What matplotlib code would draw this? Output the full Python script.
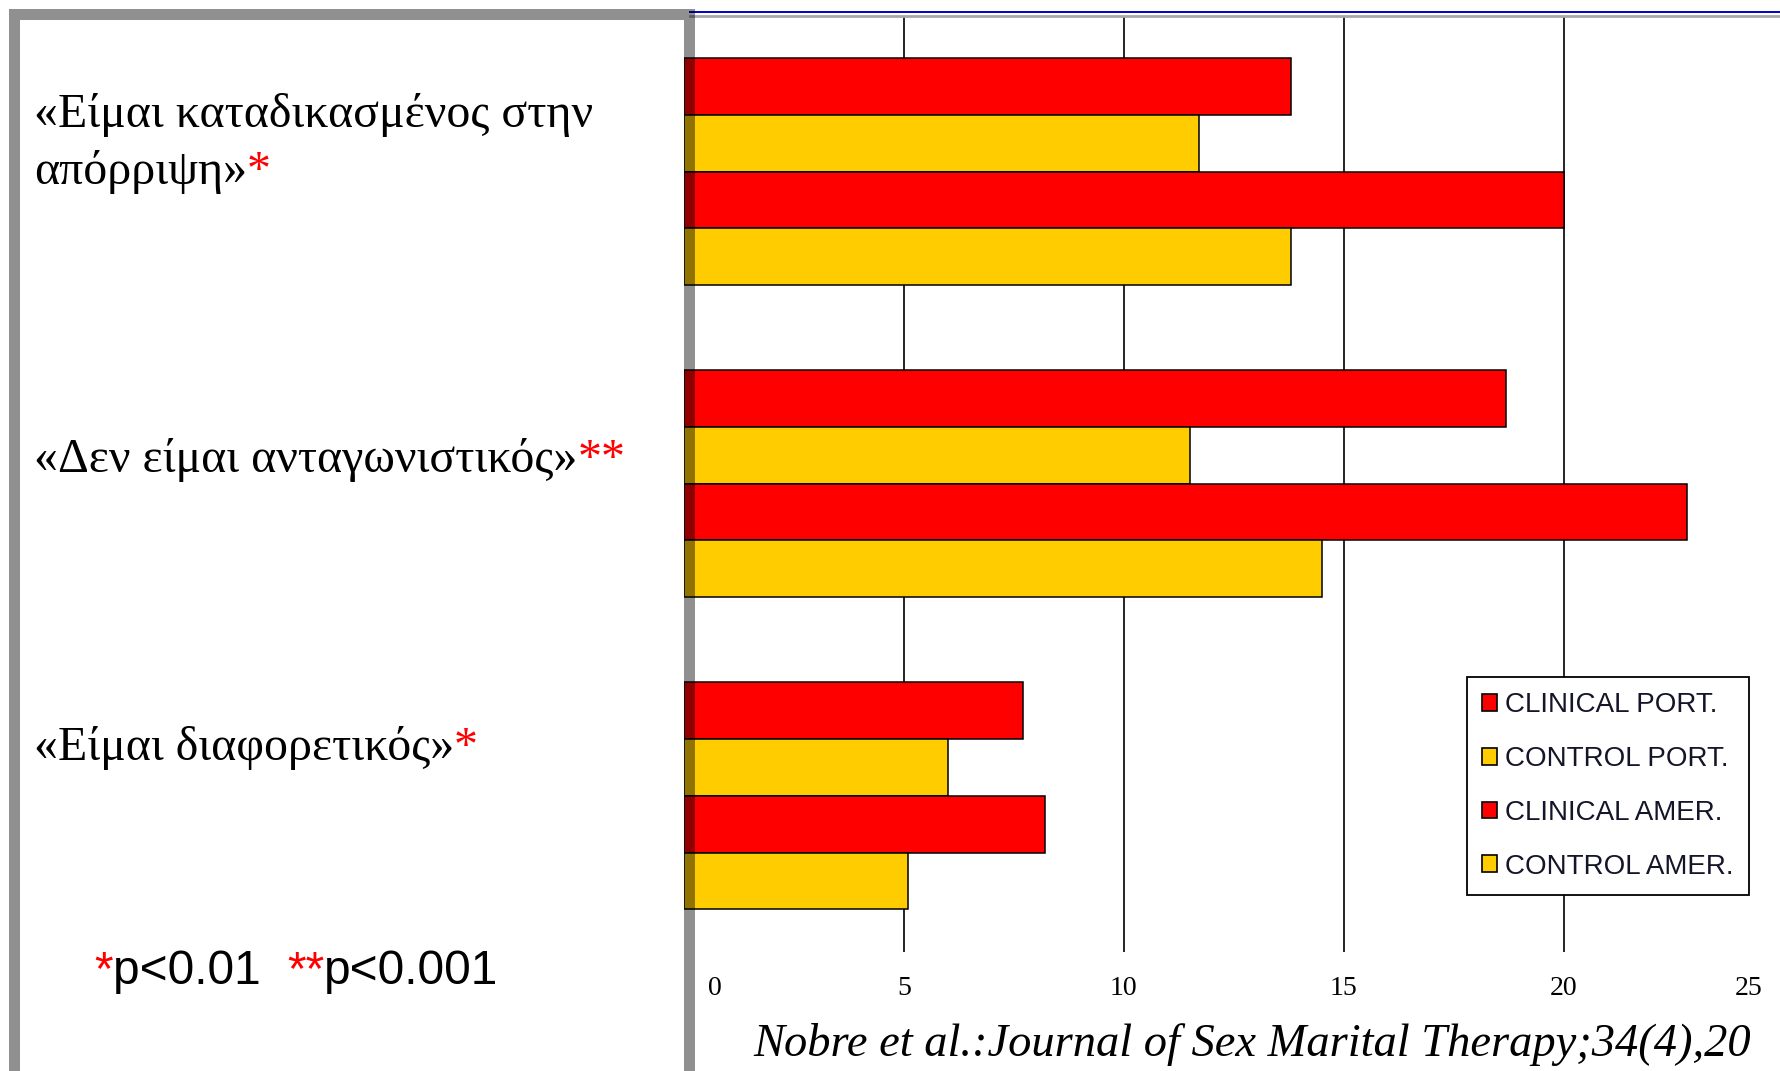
import matplotlib
matplotlib.use('Agg')
import matplotlib.pyplot as plt
from matplotlib.patches import Rectangle, Patch
from matplotlib.lines import Line2D
from matplotlib.transforms import ScaledTranslation
import numpy as np

# ---------------- data ----------------
categories = [['«Είμαι καταδικασμένος στην', 'απόρριψη»'],
              ['«Δεν είμαι ανταγωνιστικός»'],
              ['«Είμαι διαφορετικός»']]
significance = ['*', '**', '*']
series_names = ['CLINICAL PORT.', 'CONTROL PORT.', 'CLINICAL AMER.', 'CONTROL AMER.']
clinical_port = [13.8, 18.7, 7.7]
control_port = [11.7, 11.5, 6.0]
clinical_amer = [20.0, 22.8, 8.2]
control_amer = [13.8, 14.5, 5.1]
xtick_values = [0, 5, 10, 15, 20, 25]
pvalue_parts = [('*', 'red'), ('p<0.01  ', 'black'), ('**', 'red'), ('p<0.001', 'black')]
citation = 'Nobre et al.:Journal of Sex Marital Therapy;34(4),20'

series_values = [clinical_port, control_port, clinical_amer, control_amer]
colors = ['#FF0000', '#FFCC00', '#FF0000', '#FFCC00']

# ---------------- figure ----------------
W, H = 1780, 1071
fig = plt.figure(figsize=(W / 100, H / 100), dpi=100)
fig.patch.set_facecolor('white')


def fx(px):
    return px / W


def fy(py):
    return 1 - py / H


x0_px, unit_px = 684.0, 43.98
ax_left, ax_top, ax_bottom = x0_px, 16.0, 952.0
ax_right = x0_px + 25 * unit_px
ax = fig.add_axes([fx(ax_left), fy(ax_bottom), (ax_right - ax_left) / W, (ax_bottom - ax_top) / H])
ax.set_facecolor('none')

group_step = 5.5
for i, vals in enumerate(series_values):
    ypos = np.arange(len(vals)) * group_step + i + 0.5
    ax.barh(ypos, vals, height=1.0, color=colors[i], edgecolor='black', linewidth=1.1, zorder=3)

ax.set_xlim(0, 25)
ax.set_ylim(15.75, -0.74)
ax.set_yticks([])
ax.set_xticks(xtick_values)
ax.set_xticklabels([str(v) for v in xtick_values], fontfamily='Liberation Serif', fontsize=20)
ax.tick_params(axis='x', length=0, pad=17)
ax.xaxis.grid(True, color='black', linewidth=1.2)
ax.set_axisbelow(True)
for s in ax.spines.values():
    s.set_visible(False)

gl = ax.xaxis.get_gridlines()
gl[0].set_visible(False)

for lab in ax.get_xticklabels():
    t = lab.get_text()
    if t == '0':
        lab.set_transform(lab.get_transform() + ScaledTranslation(31 / 100, 0, fig.dpi_scale_trans))
    elif t == '25':
        lab.set_transform(lab.get_transform() + ScaledTranslation(-35 / 100, 0, fig.dpi_scale_trans))

# top lines
fig.add_artist(Line2D([fx(690), 1], [fy(12), fy(12)], color='#0000c8', linewidth=1.4, transform=fig.transFigure))
fig.add_artist(Line2D([fx(690), 1], [fy(15.5), fy(15.5)], color='#a8a8a8', linewidth=2.0, transform=fig.transFigure))

# left frame (semi-transparent dark stroke)
fig.add_artist(Rectangle((fx(14), fy(1120)), fx(688.5) - fx(14), fy(14) - fy(1120),
                         fill=False, edgecolor='black', alpha=0.435, linewidth=11 * 0.72,
                         joinstyle='miter', transform=fig.transFigure, zorder=10))

# ---------------- texts ----------------
renderer = fig.canvas.get_renderer()
serif = dict(fontfamily='Liberation Serif', fontsize=34.5)
baselines = [[127, 184], [472], [760]]
for lines, bls, sig in zip(categories, baselines, significance):
    last = None
    for line, bl in zip(lines, bls):
        last = fig.text(fx(34), fy(bl), line, va='baseline', ha='left', color='black', **serif)
    bb = last.get_window_extent(renderer)
    fig.text(bb.x1 / W, fy(bls[-1]), sig, va='baseline', ha='left', color='red', **serif)

# p-value legend
xcur = 94.0
for txt, col in pvalue_parts:
    t = fig.text(fx(xcur), fy(984), txt, va='baseline', ha='left', color=col,
                 fontfamily='Liberation Sans', fontsize=34.5)
    xcur = t.get_window_extent(renderer).x1

# citation
fig.text(fx(753), fy(1056), citation, va='baseline', ha='left', style='italic',
         fontfamily='Liberation Serif', fontsize=33.5, color='black')

# legend
handles = [Patch(facecolor=c, edgecolor='black', linewidth=1.2) for c in colors]
leg = fig.legend(handles, series_names, loc='upper right', bbox_to_anchor=(fx(1749), fy(677)),
                 frameon=True, fancybox=False, edgecolor='black', framealpha=1,
                 prop={'family': 'Liberation Sans', 'size': 20},
                 handlelength=0.55, handleheight=0.55, handletextpad=0.28,
                 labelspacing=1.0, borderpad=0.55, borderaxespad=0)
leg.get_frame().set_linewidth(1.3)
for t in leg.get_texts():
    t.set_color('#15152a')

fig.savefig('out.png', dpi=100)
